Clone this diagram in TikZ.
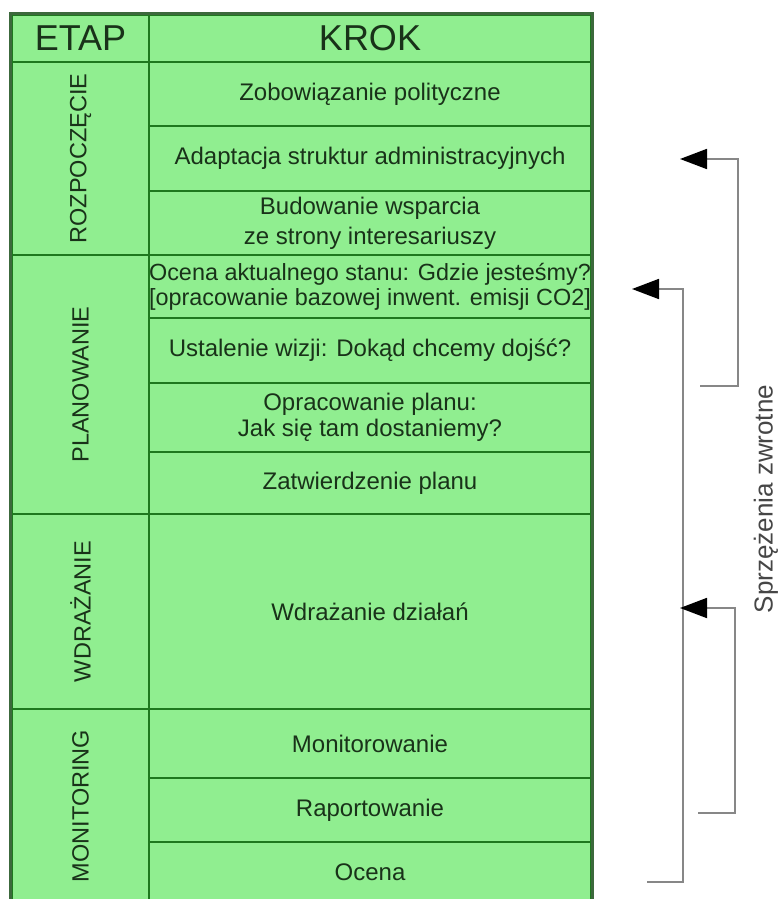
\documentclass[tikz,border=0pt]{standalone}
\usepackage{fontspec}
\setmainfont{Liberation Sans}
\usetikzlibrary{arrows.meta}
\definecolor{lg}{RGB}{144,238,144}
\definecolor{linec}{RGB}{30,120,30}
\definecolor{borderc}{RGB}{60,105,60}
\definecolor{textc}{RGB}{25,50,25}
\definecolor{fbgray}{RGB}{135,135,135}
\definecolor{labelc}{RGB}{70,70,70}
\begin{document}
\begin{tikzpicture}[x=1pt,y=-1pt,
 cell/.style={draw=linec, line width=2.2pt, fill=lg, inner sep=0pt, text=textc, align=center, font=\fontsize{24}{28}\selectfont},
 krok/.style={cell, minimum width=442pt},
 etap/.style={cell, rotate=90, minimum height=137pt, font=\fontsize{23.5}{28}\selectfont},
 head/.style={cell, font=\fontsize{36}{40}\selectfont, minimum height=47pt},
 fb/.style={draw=fbgray, line width=1.8pt, -{Triangle[length=27pt,width=20pt,color=black]}}]
\useasboundingbox (0,0) rectangle (782,899);
\fill[white] (0,0) rectangle (782,899);
\clip (0,0) rectangle (782,899);

% header
\node[head, minimum width=137pt] (h0) at (80.5,38.5) {ETAP};
\node[head, minimum width=442pt] (h1) at (370,38.5) {KROK};

% stages
\node[etap, minimum width=193pt] (s1) at (80.5,158.5) {ROZPOCZĘCIE};
\node[etap, minimum width=259pt] (s2) at (80.5,384.5) {PLANOWANIE};
\node[etap, minimum width=195pt] (s3) at (80.5,611.5) {WDRAŻANIE};
\node[etap, minimum width=194pt] (s4) at (80.5,806) {MONITORING};

% steps
\node[krok, minimum height=64pt] (r1) at (370,94) {Zobowiązanie polityczne};
\node[krok, minimum height=65pt] (r2) at (370,158.5) {Adaptacja struktur administracyjnych};
\node[krok, minimum height=64pt, font=\fontsize{24}{30}\selectfont] (r3) at (370,223) {Budowanie wsparcia\\ze strony interesariuszy};
\node[krok, minimum height=63pt, font=\fontsize{23.4}{25}\selectfont] (r4) at (370,286.5) {Ocena aktualnego stanu: Gdzie jesteśmy?\\{[}opracowanie bazowej inwent. emisji CO2{]}};
\node[krok, minimum height=65pt] (r5) at (370,350.5) {Ustalenie wizji: Dokąd chcemy dojść?};
\node[krok, minimum height=69pt, font=\fontsize{24}{26}\selectfont] (r6) at (370,417.5) {Opracowanie planu:\\Jak się tam dostaniemy?};
\node[krok, minimum height=62pt] (r7) at (370,483) {Zatwierdzenie planu};
\node[krok, minimum height=195pt] (r8) at (370,611.5) {Wdrażanie działań};
\node[krok, minimum height=69pt] (r9) at (370,743.5) {Monitorowanie};
\node[krok, minimum height=64pt] (r10) at (370,810) {Raportowanie};
\node[krok, minimum height=61pt] (r11) at (370,872.5) {Ocena};

% outer border
\draw[borderc, line width=3pt] (h0.north west) rectangle (r11.south east);

% feedback arrows
\coordinate (a1s) at (700,386);
\coordinate (a1t) at (680,159);
\coordinate (a2s) at (647,882);
\coordinate (a2t) at (632,289);
\coordinate (a3s) at (698,813);
\coordinate (a3t) at (680,608);
\draw[fb] (a1s) -- ++(38,0) |- (a1t);
\draw[fb] (a2s) -- ++(36,0) |- (a2t);
\draw[fb] (a3s) -- ++(37,0) |- (a3t);

\node[rotate=90, text=labelc, font=\fontsize{26}{30}\selectfont, inner sep=0pt] (fbl) at (766,499) {Sprzężenia zwrotne};
\end{tikzpicture}
\end{document}
